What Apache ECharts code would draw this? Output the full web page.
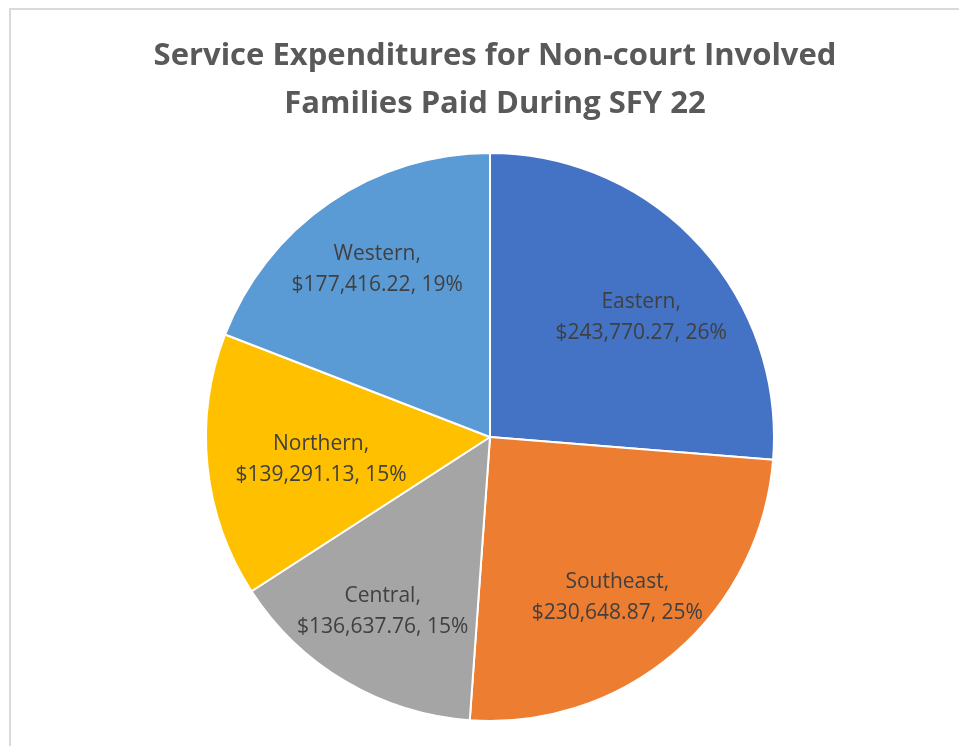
<!DOCTYPE html>
<html>
<head>
<meta charset="utf-8">
<script src="https://cdn.jsdelivr.net/npm/echarts@6/dist/echarts.min.js"></script>
<style>
    html, body { margin: 0; padding: 0; background: #fff; overflow: hidden; }
    #frame { position: absolute; left: 9px; top: 8px; width: 1000px; height: 800px;
             border-left: 2px solid #d9d9d9; border-top: 2px solid #d9d9d9; }
    #main { position: absolute; left: 0; top: 0; width: 959px; height: 746px; }
</style>
</head>
<body>
<div id="frame"></div>
<div id="main"></div>
<script>
// 数据
var regions = ['Eastern', 'Southeast', 'Central', 'Northern', 'Western'];
var amounts = [243770.27, 230648.87, 136637.76, 139291.13, 177416.22];
var colors = ['#4472C4', '#ED7D31', '#A5A5A5', '#FFC000', '#5B9BD5'];
// 标签微调（Excel 的标签位置）
var labelShift = [[2, 18], [-5, 7], [-4, 0], [33, 2], [2, 0]];

var pieData = [];
var labelData = [];
for (var i = 0; i < regions.length; i++) {
    pieData.push({ name: regions[i], value: amounts[i], itemStyle: { color: colors[i] } });
    labelData.push({ name: regions[i], value: amounts[i] });
}

function money(v) {
    return '$' + v.toLocaleString('en-US', { minimumFractionDigits: 2, maximumFractionDigits: 2 });
}

var myChart = echarts.init(document.getElementById('main'));
var option = {
    animation: false,
    title: {
        text: 'Service Expenditures for Non-court Involved\nFamilies Paid During SFY 22',
        left: 490,
        textAlign: 'center',
        top: 27,
        textStyle: { fontFamily: 'Open Sans', fontWeight: 'bold', fontSize: 31, lineHeight: 48, color: '#595959' }
    },
    series: [
        {
            type: 'pie',
            center: [490, 437],
            radius: [0, 284],
            startAngle: 90,
            clockwise: true,
            data: pieData,
            itemStyle: { borderColor: '#fff', borderWidth: 2 },
            label: { show: false },
            labelLine: { show: false },
            silent: true
        },
        {
            // 只用来放标签
            type: 'pie',
            center: [490, 437],
            radius: [116, 284],
            startAngle: 90,
            clockwise: true,
            data: labelData,
            itemStyle: { color: 'rgba(0,0,0,0)', borderWidth: 0 },
            silent: true,
            labelLine: { show: false },
            label: {
                position: 'inside',
                fontFamily: 'Open Sans',
                fontSize: 21,
                lineHeight: 31,
                color: '#404040',
                formatter: function (p) {
                    return p.name + ',\n' + money(p.value) + ', ' + Math.round(p.percent) + '%';
                }
            },
            labelLayout: function (p) {
                return { dx: labelShift[p.dataIndex][0], dy: labelShift[p.dataIndex][1] };
            }
        }
    ]
};
myChart.setOption(option);
window.onresize = function () {
    myChart.resize();
};
</script>
</body>
</html>
